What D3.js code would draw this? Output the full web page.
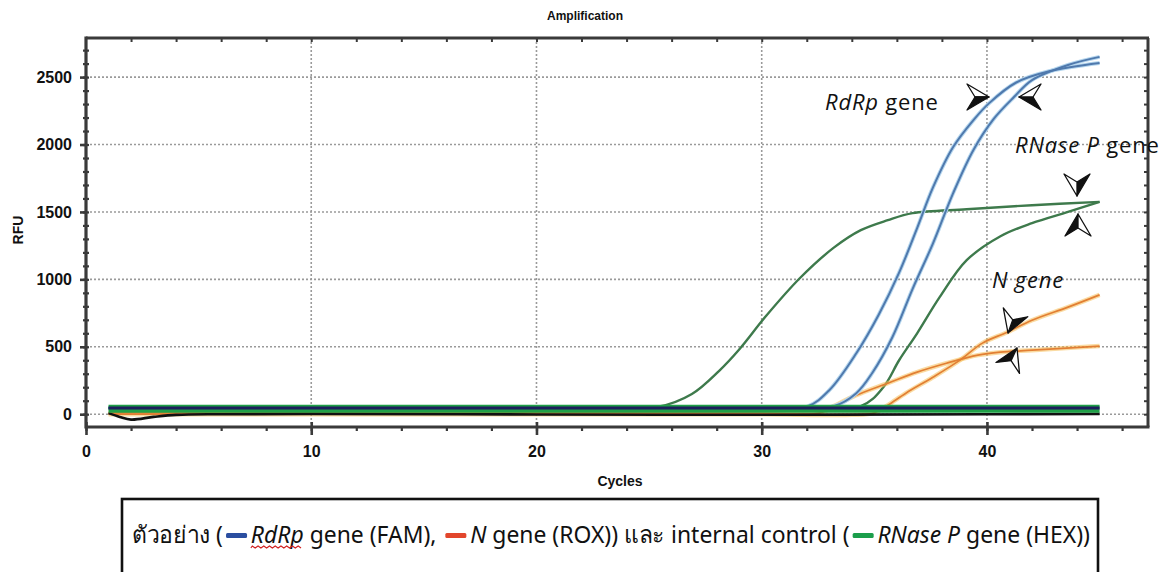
<!DOCTYPE html>
<html>
<head>
<meta charset="utf-8">
<script src="https://cdn.jsdelivr.net/npm/d3@7"></script>
<style>
  html, body { margin: 0; padding: 0; background: #fff; }
  svg { display: block; }
</style>
</head>
<body>
<svg id="chart" width="1171" height="572"></svg>
<script>
// ---------------- DATA ----------------
const xTicks = [0, 10, 20, 30, 40];
const yTicks = [0, 500, 1000, 1500, 2000, 2500];

// [cycle, RFU]
const rdrpA = [[1,45],[10,45],[20,45],[30,45],[32,55],[33,178],[34.2,452],[35.2,740],[36.1,1050],[36.9,1380],[37.6,1680],[38.5,1981],[39.4,2181],[40.1,2307],[41.3,2460],[42.8,2545],[45,2605]];
const rdrpB = [[1,45],[10,45],[20,45],[30,45],[33.2,60],[34.2,156],[34.9,304],[35.8,571],[36.7,930],[37.6,1265],[38.5,1640],[39.4,1960],[40.3,2190],[41.2,2352],[42.0,2478],[43.6,2590],[45,2650]];
const rnaseA = [[1,45],[10,45],[20,45],[25.4,55],[26.9,150],[28.1,320],[29.0,480],[30.2,730],[31.7,1010],[33.2,1235],[34.4,1365],[35.6,1439],[36.7,1491],[39.1,1520],[42.0,1550],[45,1575]];
const rnaseB = [[1,45],[10,45],[20,45],[30,45],[34.4,60],[35.4,200],[36.1,400],[36.9,600],[37.9,868],[39.1,1142],[40.6,1320],[42.0,1417],[43.6,1500],[45,1575]];
const nGeneA = [[1,10],[10,10],[20,10],[30,8],[32.6,10],[33.2,60],[34.2,141],[35.6,230],[36.9,312],[38.2,378],[39.6,438],[40.6,460],[42.0,475],[45,505]];
const nGeneB = [[1,0],[10,0],[20,0],[30,0],[34,-5],[35.0,10],[35.6,67],[36.4,156],[37.6,274],[38.8,401],[39.8,527],[40.9,608],[42.0,697],[43.6,794],[45,885]];
const negGreen = [[1,40],[10,40],[20,40],[30,40],[40,40],[45,40]];
const negNavy = [[1,46],[10,46],[20,46],[30,46],[40,46],[45,46]];
const negBlack = [[1,8],[1.5,-20],[2,-40],[3,-20],[4,-5],[6,0],[10,2],[20,-2],[30,-4],[40,0],[45,2]];

const seriesList = [
  {data: rnaseA, color: "#3e7a4c", width: 2.4},
  {data: rnaseB, color: "#3e7a4c", width: 2.4},
  {data: nGeneA, color: "#f5bd55", width: 4.5, halo: true},
  {data: nGeneB, color: "#f5bd55", width: 4.5, halo: true},
  {data: nGeneA, color: "#e27f33", width: 1.7},
  {data: nGeneB, color: "#e27f33", width: 1.7},
  {data: rdrpA, color: "#b5d6ee", width: 4},
  {data: rdrpB, color: "#b5d6ee", width: 4},
  {data: rdrpA, color: "#4f79ad", width: 2},
  {data: rdrpB, color: "#4f79ad", width: 2},
  {data: negBlack, color: "#111111", width: 2.6},
  {data: negGreen, color: "#1fa047", width: 8},
  {data: negNavy, color: "#1c1f5c", width: 3}
];

const curveLabels = [
  {parts: [{t: "RdRp", i: true}, {t: " gene", i: false}], x: 825, y: 110},
  {parts: [{t: "RNase P", i: true}, {t: " gene", i: false}], x: 1015, y: 153},
  {parts: [{t: "N gene", i: true}], x: 992, y: 288}
];

// arrowheads: tip position, direction (deg), which half is black
const arrows = [
  {x: 989, y: 97, a: 0, black: "lower"},
  {x: 1019, y: 97, a: 180, black: "upper"},
  {x: 1077, y: 196, a: 90, black: "upper"},
  {x: 1078, y: 214, a: -90, black: "upper"},
  {x: 1008, y: 333, a: 110, black: "upper"},
  {x: 1017, y: 348, a: -65, black: "upper"}
];

const legendParts = [
  {text: "ตัวอย่าง (", italic: false},
  {swatch: "#2b4ea0"},
  {text: "RdRp", italic: true, wavy: true},
  {text: " gene (FAM), ", italic: false},
  {swatch: "#e2462c"},
  {text: "N", italic: true},
  {text: " gene (ROX)) และ internal control (", italic: false},
  {swatch: "#1b9e4b"},
  {text: "RNase P", italic: true},
  {text: " gene (HEX))", italic: false}
];

// ---------------- DRAWING ----------------
(function draw() {
const svg = d3.select("#chart");
const pLeft = 86, pRight = 1148, pTop = 38, pBottom = 427;
const x = d3.scaleLinear().domain([0, 47.15]).range([pLeft, pRight]);
const y = d3.scaleLinear().domain([-95, 2790]).range([pBottom, pTop]);
const axisColor = "#3a3a3a";
const labelFont = "'Liberation Sans', Arial, sans-serif";

svg.append("rect").attr("width", 1171).attr("height", 572).attr("fill", "#fff");

// grid
const grid = svg.append("g").attr("stroke", "#9a9a9a").attr("stroke-width", 1.6).attr("stroke-dasharray", "2,2");
yTicks.forEach(v => grid.append("line").attr("x1", pLeft).attr("x2", pRight).attr("y1", y(v)).attr("y2", y(v)));
xTicks.filter(v => v > 0).forEach(v => grid.append("line").attr("x1", x(v)).attr("x2", x(v)).attr("y1", pTop).attr("y2", pBottom));

// clip
svg.append("clipPath").attr("id", "clip").append("rect")
  .attr("x", pLeft).attr("y", pTop).attr("width", pRight - pLeft).attr("height", pBottom - pTop);

const line = d3.line().x(d => x(d[0])).y(d => y(d[1])).curve(d3.curveCatmullRom.alpha(0.5));
const curves = svg.append("g").attr("clip-path", "url(#clip)").attr("fill", "none");
seriesList.forEach(s => {
  curves.append("path").attr("d", line(s.data)).attr("stroke", s.color)
    .attr("stroke-width", s.width).attr("stroke-linecap", "butt").attr("stroke-linejoin", "round")
    .attr("opacity", s.halo ? 0.55 : 1);
});

// axes
const bottomAxis = d3.axisBottom(x).tickValues(d3.range(0, 47, 2)).tickSize(4).tickFormat("");
const topAxis = d3.axisBottom(x).tickValues(d3.range(2, 47, 2)).tickSize(4).tickFormat("");
const leftAxisMinor = d3.axisLeft(y).tickValues(d3.range(0, 2800, 100)).tickSize(3).tickFormat("");
const rightAxisMinor = d3.axisLeft(y).tickValues(d3.range(0, 2800, 100)).tickSize(4).tickFormat("");

function styleAxis(g, w) {
  g.select(".domain").remove();
  g.selectAll(".tick line").attr("stroke", axisColor).attr("stroke-width", w);
}
svg.append("g").attr("transform", `translate(0,${pBottom})`).call(bottomAxis).call(g => styleAxis(g, 2.2));
svg.append("g").attr("transform", `translate(0,${pTop})`).call(topAxis).call(g => styleAxis(g, 2));
svg.append("g").attr("transform", `translate(${pLeft},0)`).call(leftAxisMinor).call(g => styleAxis(g, 2.2))
  .selectAll(".tick line").attr("x2", -3).attr("x1", 3);
svg.append("g").attr("transform", `translate(${pRight},0)`).call(rightAxisMinor).call(g => styleAxis(g, 2))
  .selectAll(".tick line").attr("x1", 0).attr("x2", -4);

// major ticks with labels
const xMajor = d3.axisBottom(x).tickValues(xTicks).tickSize(8).tickPadding(11).tickFormat(d3.format("d"));
svg.append("g").attr("transform", `translate(0,${pBottom})`).call(xMajor).call(g => {
  g.select(".domain").remove();
  g.selectAll(".tick line").attr("stroke", axisColor).attr("stroke-width", 2.6).attr("y1", -5);
  g.selectAll(".tick text").attr("fill", "#111").attr("font-family", labelFont)
    .attr("font-weight", "bold").attr("font-size", 16);
});
const yMajor = d3.axisLeft(y).tickValues(yTicks).tickSize(6).tickPadding(8).tickFormat(d3.format("d"));
svg.append("g").attr("transform", `translate(${pLeft},0)`).call(yMajor).call(g => {
  g.select(".domain").remove();
  g.selectAll(".tick line").attr("stroke", axisColor).attr("stroke-width", 2.6);
  g.selectAll(".tick text").attr("fill", "#111").attr("font-family", labelFont)
    .attr("font-weight", "bold").attr("font-size", 16);
});

// frame
svg.append("line").attr("x1", pLeft).attr("x2", pRight + 1).attr("y1", pTop).attr("y2", pTop).attr("stroke", axisColor).attr("stroke-width", 3);
svg.append("line").attr("x1", pRight).attr("x2", pRight).attr("y1", pTop).attr("y2", pBottom).attr("stroke", axisColor).attr("stroke-width", 3);
svg.append("line").attr("x1", pLeft).attr("x2", pLeft).attr("y1", pTop - 1.5).attr("y2", pBottom + 1.5).attr("stroke", axisColor).attr("stroke-width", 3.2);
svg.append("line").attr("x1", pLeft).attr("x2", pRight + 1.5).attr("y1", pBottom).attr("y2", pBottom).attr("stroke", axisColor).attr("stroke-width", 3.2);

// titles
svg.append("text").attr("x", 585).attr("y", 20).attr("text-anchor", "middle")
  .attr("font-family", labelFont).attr("font-weight", "bold").attr("font-size", 12).attr("fill", "#111").text("Amplification");
svg.append("text").attr("transform", "translate(23,230) rotate(-90)").attr("text-anchor", "middle")
  .attr("font-family", labelFont).attr("font-weight", "bold").attr("font-size", 14).attr("fill", "#111").text("RFU");
svg.append("text").attr("x", 620).attr("y", 486).attr("text-anchor", "middle")
  .attr("font-family", labelFont).attr("font-weight", "bold").attr("font-size", 14).attr("fill", "#111").text("Cycles");

// curve labels
const annFont = "'Open Sans', 'Noto Sans', sans-serif";
curveLabels.forEach(l => {
  const t = svg.append("text").attr("x", l.x).attr("y", l.y).attr("font-family", annFont)
    .attr("font-size", 22).attr("letter-spacing", 0.8).attr("fill", "#111").style("white-space", "pre");
  l.parts.forEach(p => t.append("tspan").attr("font-style", p.i ? "italic" : "normal").text(p.t));
});

// arrowheads
arrows.forEach(a => {
  const g = svg.append("g").attr("transform", `translate(${a.x},${a.y}) rotate(${a.a})`)
    .attr("stroke", "#111").attr("stroke-width", 1.3).attr("stroke-linejoin", "round");
  g.append("path").attr("d", "M0,0 L-22,-13 L-14,0 Z").attr("fill", a.black === "upper" ? "#111" : "#fff");
  g.append("path").attr("d", "M0,0 L-22,13 L-14,0 Z").attr("fill", a.black === "lower" ? "#111" : "#fff");
});

// legend box
svg.append("rect").attr("x", 122).attr("y", 499).attr("width", 976).attr("height", 90)
  .attr("fill", "#fff").attr("stroke", "#111").attr("stroke-width", 2.6);

const legFont = "'Noto Sans', 'Open Sans', 'DejaVu Sans', sans-serif";
const legG = svg.append("g");
const inner = legG.append("g");
let cx = 0;
const baseY = 543;
legendParts.forEach(p => {
  if (p.swatch) {
    inner.append("rect").attr("x", cx + 3).attr("y", baseY - 10).attr("width", 22).attr("height", 5)
      .attr("rx", 1.5).attr("fill", p.swatch);
    cx += 29;
  } else {
    const t = inner.append("text").attr("x", cx).attr("y", baseY).attr("font-family", legFont)
      .attr("font-size", 24).attr("font-style", p.italic ? "italic" : "normal").attr("fill", "#111")
      .style("white-space", "pre").text(p.text);
    const w = t.node().getComputedTextLength();
    if (p.wavy) {
      let d = `M${cx},${baseY + 5}`;
      for (let k = 0; cx + k * 3 + 3 <= cx + w; k++) {
        d += ` L${cx + k * 3 + 1.5},${baseY + (k % 2 ? 5 : 3)}`;
      }
      inner.append("path").attr("d", d).attr("fill", "none").attr("stroke", "#d02020").attr("stroke-width", 1.2);
    }
    cx += w;
  }
});
const sx = (1090 - 132) / cx;
legG.attr("transform", `translate(132,0) scale(${sx},1)`);
})();
</script>
</body>
</html>
